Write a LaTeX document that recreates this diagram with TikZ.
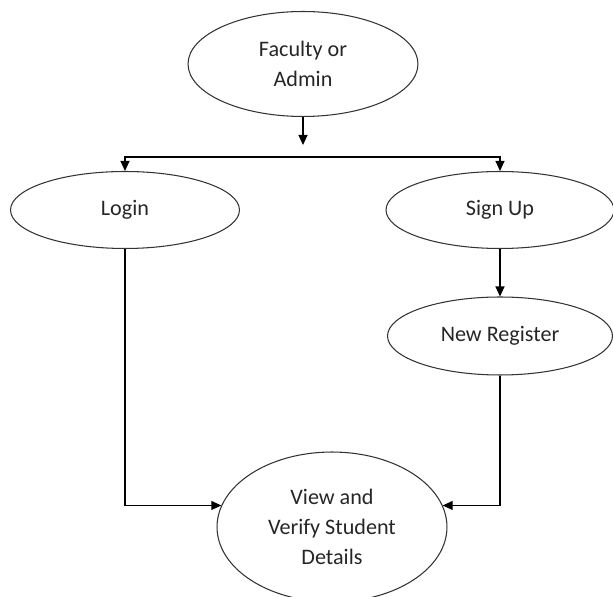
\documentclass[tikz,border=0pt]{standalone}
\usepackage{fontspec}
\setmainfont{Carlito}
\usetikzlibrary{shapes.geometric,arrows.meta}
\tikzset{
  oval/.style={draw=black!80, line width=0.6pt, ellipse, inner sep=0pt, align=center,
    font=\fontsize{12.6}{17}\selectfont, text=black!85},
  arr/.style={line width=0.6pt, -{Triangle[length=0.2cm,width=0.18cm]}},
  arrs/.style={line width=0.6pt, {Triangle[length=0.2cm,width=0.18cm]}-{Triangle[length=0.2cm,width=0.18cm]}}
}
\begin{document}
\begin{tikzpicture}[x=0.02cm,y=-0.02cm]
  \useasboundingbox (0,0) rectangle (613,597);
  \node[oval, minimum width=4.6cm, minimum height=2.1cm] (fac) at (303,64) {Faculty or\\Admin};
  \node[oval, minimum width=4.58cm, minimum height=1.54cm] (login) at (125,210) {Login};
  \node[oval, minimum width=4.56cm, minimum height=1.54cm] (signup) at (500,210) {Sign Up};
  \node[oval, minimum width=4.5cm, minimum height=1.56cm] (newreg) at (500,336) {New Register};
  \node[oval, minimum width=4.6cm, minimum height=3.0cm] (view) at (332,527) {View and\\Verify Student\\Details};
  \coordinate (tip) at (303,145);
  \coordinate (split) at (303,157);
  \draw[arr] (fac.south) -- (tip);
  \draw[arrs] (login.north) |- (split) -| (signup.north);
  \draw[arr] (signup.south) -- (newreg.north);
  \draw[arr] (login.south) |- (view.169);
  \draw[arr] (newreg.south) |- (view.11);
\end{tikzpicture}
\end{document}
